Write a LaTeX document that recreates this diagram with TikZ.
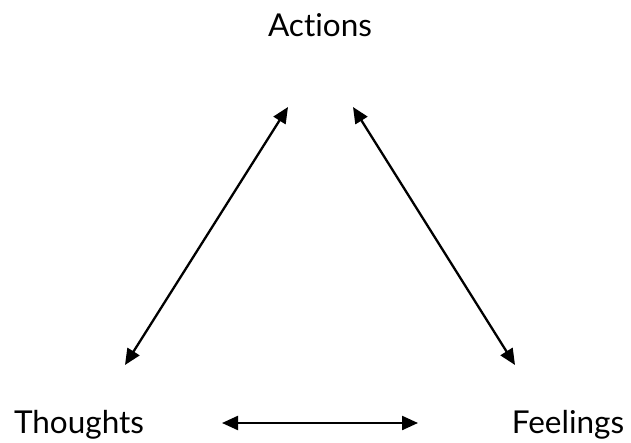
\documentclass[tikz,border=0pt]{standalone}
\usepackage{fontspec}
\setmainfont{Lato}[Ligatures=NoCommon]
\usetikzlibrary{positioning,arrows.meta}

\tikzset{
  label/.style={font=\fontsize{31.5}{36}\selectfont, inner sep=0pt},
  link/.style={line width=2.3pt, {Triangle[length=16pt,width=14pt]}-{Triangle[length=16pt,width=14pt]}}
}

\begin{document}
\begin{tikzpicture}[x=1pt,y=-1pt]

\useasboundingbox (0,0) rectangle (631,443);

\node[label] (actions) at (320,25) {Actions};
\node[label] (thoughts) at (79,425) {Thoughts};
\node[label] (feelings) at (568,425) {Feelings};

\coordinate (ta) at (125,365);
\coordinate (at) at (288,107);
\coordinate (af) at (353,107);
\coordinate (fa) at (515,365);
\coordinate (tf) at (222,423);
\coordinate (ft) at (418,423);

\draw[link] (ta) -- (at);
\draw[link] (af) -- (fa);
\draw[link] (tf) -- (ft);

\end{tikzpicture}
\end{document}
